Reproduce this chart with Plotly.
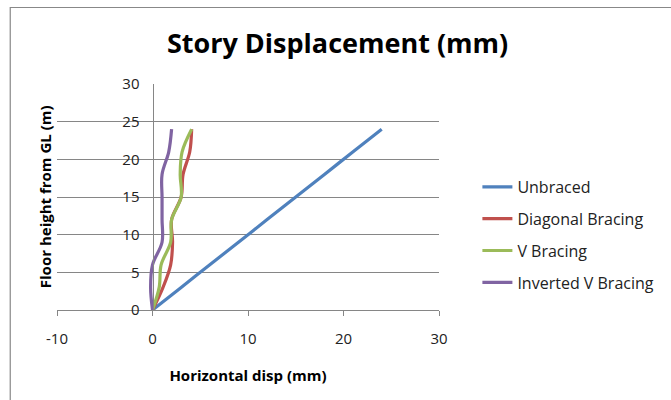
import plotly.graph_objects as go

# Data (floor heights in m, displacement in mm)
floor_height = [0, 3, 6, 9, 12, 15, 18, 21, 24]
unbraced = [0, 3, 6, 9, 12, 15, 18, 21, 24]
diagonal = [0, 1.1, 1.9, 2.1, 2.0, 3.0, 3.2, 3.9, 4.1]
v_bracing = [0, 0.7, 0.9, 1.9, 2.0, 3.0, 2.9, 3.1, 4.1]
inverted_v = [0, -0.2, 0.0, 1.0, 1.0, 1.0, 1.0, 1.7, 2.0]

series_names = ["Unbraced", "Diagonal Bracing", "V Bracing", "Inverted V Bracing"]
series_values = [unbraced, diagonal, v_bracing, inverted_v]
series_colors = ["#4F81BD", "#C0504D", "#9BBB59", "#8064A2"]

x_ticks = [-10, 0, 10, 20, 30]
y_ticks = [0, 5, 10, 15, 20, 25, 30]

FONT = "Open Sans"
W, H = 671, 400
L, R, T, B = 57, 226, 84, 90
pw = W - L - R
ph = H - T - B

fig = go.Figure()
for i, (name, vals, col) in enumerate(zip(series_names, series_values, series_colors)):
    fig.add_trace(go.Scatter(
        x=vals, y=floor_height, name=name, mode="lines",
        line=dict(color=col, width=3.2, shape="spline", smoothing=1.0),
        legendgroup=f"g{i}",
    ))

# chart border
fig.add_shape(type="rect", xref="paper", yref="paper",
              x0=(9.5 - L) / pw, x1=(W + 20 - L) / pw,
              y0=-(B + 20) / ph, y1=(H - B - 7.5) / ph,
              line=dict(color="#888888", width=1.2), fillcolor="rgba(0,0,0,0)", layer="below")

fig.update_layout(
    width=W, height=H,
    margin=dict(l=L, r=R, t=T, b=B),
    paper_bgcolor="white", plot_bgcolor="white",
    title=dict(text="<b>Story Displacement (mm)</b>", x=(342 - L) / pw, xref="paper",
               xanchor="center", y=1 - 44 / H, yanchor="middle",
               font=dict(family=FONT, size=27, color="#000000")),
    showlegend=True,
    legend=dict(x=(484 - L) / pw, y=(H - B - 170) / ph, xanchor="left", yanchor="top",
                traceorder="grouped", tracegroupgap=8,
                font=dict(family=FONT, size=16, color="#222222"),
                bgcolor="rgba(0,0,0,0)"),
    xaxis=dict(range=[-10, 30], tickvals=x_ticks, ticktext=[str(v) for v in x_ticks],
               showgrid=False, zeroline=False, showline=True, linecolor="#868686", linewidth=1,
               ticks="outside", ticklen=5, tickcolor="#868686",
               ticklabelstandoff=10, automargin=False,
               tickfont=dict(family=FONT, size=15, color="#222222"),
               title=dict(text="<b>Horizontal disp (mm)</b>", standoff=23,
                          font=dict(family=FONT, size=15, color="#000000"))),
    yaxis=dict(range=[0, 30], tickvals=y_ticks, ticktext=[str(v) for v in y_ticks],
               showgrid=True, gridcolor="#868686", gridwidth=1,
               zeroline=False, showline=True, linecolor="#868686", linewidth=1,
               anchor="free", position=0.25, ticks="", automargin=False,
               ticklabelstandoff=10,
               tickfont=dict(family=FONT, size=15, color="#222222")),
    annotations=[dict(text="<b>Floor height from GL (m)</b>", xref="paper", yref="paper",
                      x=(45 - L) / pw, y=0.5, textangle=-90, showarrow=False,
                      xanchor="center", yanchor="middle",
                      font=dict(family=FONT, size=15, color="#000000"))],
)

fig.write_html("out.html", config={"displayModeBar": False},
               post_script="document.body.style.margin='0';")
